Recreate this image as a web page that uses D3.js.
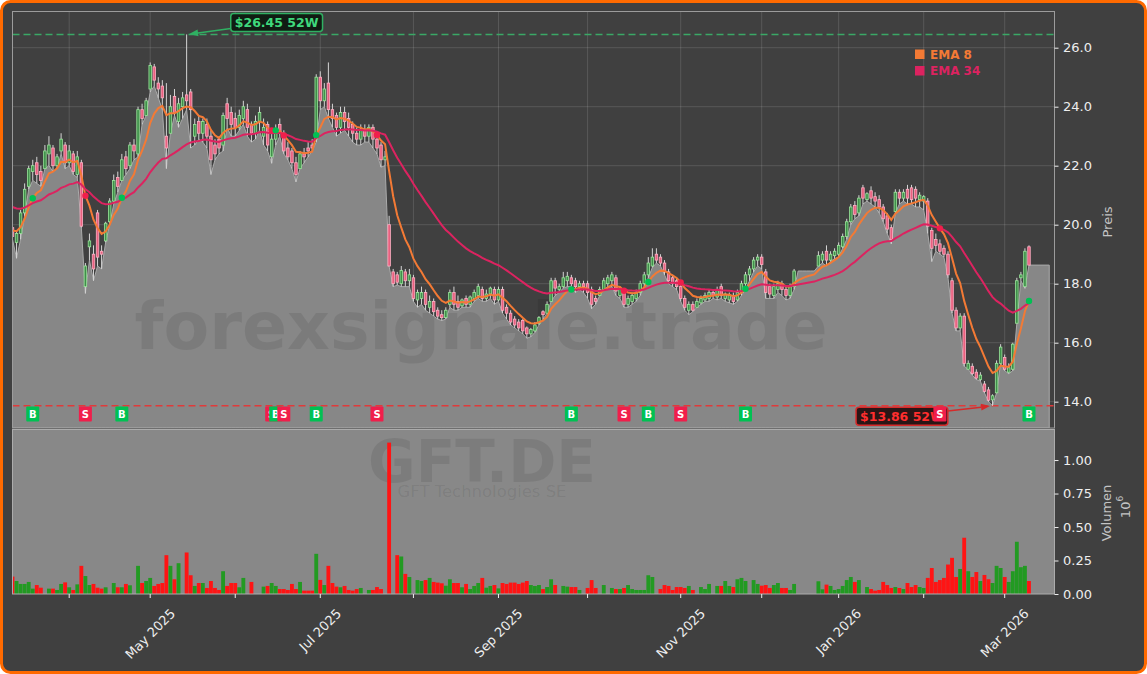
<!DOCTYPE html>
<html><head><meta charset="utf-8">
<script src="https://cdn.jsdelivr.net/npm/d3@7/dist/d3.min.js"></script>
<style>html,body{margin:0;padding:0;background:#ffffff;}svg{display:block;font-family:"DejaVu Sans",sans-serif;}</style>
</head><body>
<svg id="c" width="1147" height="674"></svg>
<script>
// ---------------- DATA ----------------
const ticker = "GFT.DE";
const companyName = "GFT Technologies SE";
const watermark = "forexsignale.trade";
const startDate = "2025-03-12";
const holidays = ["2025-04-18","2025-04-21","2025-05-01","2025-12-24","2025-12-25","2025-12-26","2025-12-31","2026-01-01"];

const opens = [
 19.9,19.4,19.7,20.4,21.3,21.8,22.1,21.8,21.9,22.4,22.6,22.0,22.5,22.7,
 22.1,22.4,21.7,22.1,17.9,19.25,19.0,20.4,19.1,19.45,20.1,20.8,21.6,21.5,22.3,22.0,22.7,22.4,23.9,23.7,
 24.6,25.35,24.8,24.7,23.0,23.1,24.35,23.5,24.0,24.4,24.5,23.0,23.5,23.1,23.4,23.0,22.7,22.9,22.7,24.1,23.8,
 23.6,23.3,23.6,23.9,23.4,23.1,23.5,23.0,23.4,22.3,22.9,23.4,23.1,22.6,22.5,22.1,21.9,22.4,22.6,22.7,22.9,
 25.0,24.2,24.8,23.9,23.7,23.3,23.8,23.6,23.4,23.1,22.9,23.2,23.0,23.3,22.9,22.7,22.2,20.0,18.4,18.3,18.0,18.4,18.1,
 18.2,17.45,17.5,17.7,17.2,17.4,17.1,16.95,16.85,17.3,17.7,17.4,17.25,17.5,17.3,17.5,17.6,17.8,17.5,17.65,17.8,
 17.45,17.8,17.2,17.0,16.8,16.7,16.75,16.5,16.3,16.4,16.65,17.05,17.0,17.4,18.1,17.8,17.9,18.1,18.2,18.1,17.9,18.0,
 18.0,17.8,17.5,17.6,17.8,18.0,18.1,18.2,17.6,17.7,17.3,17.4,17.5,17.7,18.0,18.3,18.6,19.0,18.9,18.7,18.4,18.2,18.1,
 17.9,17.5,17.1,17.3,17.2,17.35,17.45,17.5,17.7,17.55,17.9,17.5,17.45,17.6,17.45,17.7,18.0,18.3,18.5,18.8,
 18.9,18.4,17.9,17.6,17.8,18.0,17.8,17.6,17.9,18.43,18.43,18.43,18.43,18.43,18.6,18.8,19.1,18.8,18.95,
 19.0,19.25,19.6,20.1,20.65,20.4,21.25,20.85,21.15,20.95,20.85,20.6,20.3,19.9,20.45,21.1,20.9,21.2,21.25,21.2,20.85,
 20.8,20.8,19.8,19.5,19.35,19.2,19.0,18.1,17.1,16.5,16.9,15.1,15.2,15.0,14.75,14.6,14.4,14.06,14.3,15.3,
 15.5,15.0,15.1,16.66,18.2,17.9,19.25];
const highs = [
 20.2,19.8,20.5,21.4,22.0,22.2,22.3,22.0,22.7,23.0,22.7,22.4,23.1,22.8,
 22.7,22.5,22.5,22.2,18.7,19.7,19.3,20.5,19.3,20.1,20.9,21.7,21.8,22.4,22.5,22.8,22.9,24.0,24.1,24.3,
 25.5,25.45,25.0,24.9,24.8,24.4,24.6,24.3,24.5,26.45,24.6,23.6,23.7,23.6,23.6,23.2,22.9,23.0,23.8,24.3,24.0,
 23.8,23.9,24.2,24.1,23.5,23.7,24.0,23.6,23.5,23.1,23.4,23.6,23.2,22.8,22.6,22.3,22.5,22.6,22.8,22.9,25.1,
 25.2,24.8,25.5,24.1,23.8,24.0,24.0,23.8,23.5,23.3,23.4,23.4,23.4,23.4,23.0,22.8,22.5,20.3,18.5,18.4,18.6,18.5,18.5,
 18.3,17.8,17.9,17.8,17.6,17.5,17.2,17.1,17.2,17.8,17.9,17.6,17.5,17.6,17.6,17.8,18.0,17.9,17.8,17.9,17.9,
 17.9,17.9,17.3,17.1,16.9,16.8,16.8,16.55,16.5,16.7,16.9,17.1,17.4,18.2,18.2,18.0,18.4,18.4,18.3,18.2,18.1,18.1,
 18.1,17.9,17.6,17.9,18.2,18.3,18.4,18.3,17.9,17.8,17.6,17.7,17.8,18.1,18.4,18.9,19.2,19.2,19.0,18.8,18.5,18.3,18.2,
 18.0,17.6,17.4,17.4,17.5,17.6,17.7,17.8,17.8,17.9,18.0,17.7,17.7,17.7,17.8,18.1,18.4,18.6,18.9,19.0,
 19.0,18.5,18.0,18.0,18.1,18.1,17.9,18.0,18.5,18.43,18.43,18.43,18.43,18.43,19.1,19.1,19.3,19.1,19.2,
 19.4,19.7,20.2,20.7,20.8,21.0,21.35,21.1,21.3,21.1,21.0,20.7,20.4,20.0,21.2,21.2,21.2,21.35,21.35,21.3,21.1,
 21.0,20.9,19.9,19.7,19.5,19.3,19.1,18.2,17.2,17.0,17.0,15.4,15.3,15.1,15.0,14.7,14.5,14.25,15.4,15.95,
 15.6,15.3,16.0,18.2,18.4,19.2,19.3];
const lows = [
 19.5,18.86,19.5,20.3,21.2,21.5,21.4,21.3,21.9,22.0,21.8,21.9,22.4,21.9,
 22.0,21.7,21.6,19.9,17.67,18.8,18.1,18.6,18.5,19.4,20.0,20.7,21.1,21.5,21.7,21.9,22.2,22.3,23.4,23.7,
 24.5,24.7,24.3,23.9,21.9,23.1,23.7,23.3,23.6,23.9,22.6,22.7,22.9,22.8,22.6,21.7,22.2,22.4,22.5,23.3,23.0,
 23.0,23.2,23.4,23.0,22.8,22.9,23.2,22.7,22.5,22.08,22.7,23.0,22.4,22.2,21.9,21.45,21.9,22.1,22.3,22.5,22.8,
 23.9,24.0,23.6,23.3,23.0,23.1,23.2,23.0,22.8,22.7,22.7,22.8,22.8,22.6,22.4,21.95,22.0,18.58,17.9,17.95,17.9,17.9,17.9,
 17.4,17.2,17.3,17.1,17.0,16.9,16.8,16.75,16.8,17.2,17.1,17.1,17.2,17.2,17.2,17.4,17.5,17.4,17.4,17.5,17.3,
 17.4,17.0,16.8,16.6,16.5,16.4,16.3,16.15,16.2,16.35,16.6,16.8,17.0,17.4,17.6,17.7,17.85,17.9,17.9,17.7,17.8,17.7,
 17.5,17.15,17.3,17.6,17.8,17.9,17.9,17.6,17.5,17.2,17.2,17.3,17.4,17.6,17.9,18.2,18.55,18.7,18.6,18.3,18.0,17.9,17.8,
 17.4,17.1,16.95,17.05,17.2,17.3,17.4,17.4,17.5,17.45,17.5,17.4,17.35,17.3,17.4,17.6,17.8,18.1,18.4,18.6,
 18.5,17.5,17.5,17.5,17.7,17.6,17.45,17.5,17.8,18.43,18.43,18.43,18.43,18.43,18.6,18.7,18.6,18.75,18.85,
 18.9,19.2,19.5,20.0,20.2,20.3,20.7,20.8,20.7,20.6,20.4,20.1,19.7,19.35,20.4,20.7,20.8,20.7,20.7,20.6,20.6,
 20.5,19.7,18.75,19.1,19.0,18.9,18.2,17.0,16.4,16.4,15.2,15.1,14.9,14.75,14.7,14.3,14.0,13.86,14.3,15.3,
 15.05,14.95,15.05,16.66,18.1,17.84,18.63];
const closes = [
 19.6,19.7,20.4,21.2,21.9,22.0,21.7,21.5,22.5,22.7,22.0,22.3,22.9,22.1,
 22.5,21.8,22.3,19.95,18.6,19.45,18.5,18.9,19.0,20.05,20.8,21.5,21.3,22.2,21.9,22.7,22.5,23.9,23.6,24.2,
 25.4,24.9,24.6,24.3,22.6,24.0,23.8,24.1,24.3,24.2,23.9,23.4,23.1,23.5,23.0,22.2,22.4,22.6,23.7,23.6,23.4,
 23.3,23.7,24.0,23.3,23.1,23.5,23.8,23.3,22.7,22.9,23.2,23.1,22.5,22.3,22.1,21.7,22.4,22.3,22.5,22.6,25.0,
 24.2,24.6,23.9,23.6,23.3,23.8,23.5,23.3,23.1,22.9,23.2,23.0,23.3,22.9,22.6,22.2,22.3,18.6,18.0,18.05,18.45,18.1,18.3,
 17.5,17.7,17.7,17.3,17.4,17.05,16.9,16.85,17.1,17.7,17.3,17.2,17.45,17.3,17.55,17.7,17.9,17.5,17.65,17.85,17.45,
 17.8,17.1,17.0,16.7,16.6,16.5,16.4,16.3,16.45,16.6,16.85,16.95,17.3,18.1,17.85,17.9,18.2,18.25,18.0,17.9,18.0,17.9,
 17.7,17.3,17.4,17.8,18.1,18.2,18.3,17.75,17.8,17.3,17.5,17.6,17.7,18.0,18.3,18.7,18.9,18.8,18.7,18.4,18.1,18.0,17.9,
 17.5,17.2,17.3,17.1,17.4,17.5,17.6,17.7,17.6,17.8,17.6,17.65,17.6,17.4,17.7,18.0,18.3,18.5,18.8,18.9,
 18.65,17.7,17.65,17.9,18.0,17.8,17.6,17.9,18.43,18.43,18.43,18.43,18.43,18.43,18.95,19.0,18.8,19.0,19.1,
 19.3,19.6,20.1,20.6,20.35,20.9,20.9,21.05,20.9,20.8,20.6,20.2,19.85,19.5,21.1,20.9,21.1,20.9,20.85,20.9,21.0,
 20.95,19.95,19.2,19.3,19.1,19.0,18.3,17.1,16.5,16.9,15.3,15.3,14.95,14.8,14.9,14.35,14.05,14.2,15.3,15.85,
 15.1,15.15,15.95,18.1,18.3,19.1,18.63];
// volume in millions
const volumes = [
 0.13,0.097,0.075,0.075,0.09,0.04,0.067,0.047,0,0.04,0.04,0.03,0.075,0.087,
 0.05,0.03,0.072,0.21,0.134,0.067,0.075,0.047,0.04,0.05,0,0.082,0.05,0.05,0.075,0.065,0,0.21,0.082,0.097,
 0.12,0.06,0.075,0.082,0.29,0.21,0.11,0.23,0,0.31,0.14,0.06,0.082,0.082,0.045,0.097,0.045,0.03,0.17,0.06,0.082,
 0.082,0.05,0.12,0,0.09,0,0,0.055,0.06,0.082,0.06,0.037,0.037,0.03,0.075,0.037,0.09,0.025,0.025,0.025,0.30,
 0.105,0.067,0.21,0.082,0.055,0.05,0.06,0.03,0.025,0.037,0.045,0,0.03,0.03,0.052,0.037,0,1.13,0,0.29,0.28,0.15,0.127,
 0,0.104,0.097,0.104,0.12,0.09,0.085,0.08,0.062,0.11,0.082,0.082,0.05,0.075,0.037,0.06,0.082,0.12,0.047,0.06,0.067,
 0.042,0.082,0.075,0.085,0.085,0.075,0.085,0.097,0.067,0.06,0.067,0.037,0.052,0.11,0.067,0,0.06,0.055,0.052,0.052,0.03,0,
 0.045,0.104,0.045,0,0.067,0,0.045,0.037,0.037,0.045,0.067,0.037,0.03,0.03,0.03,0.14,0.127,0,0.037,0.067,0.06,0.03,0.052,
 0.052,0.045,0.06,0.03,0,0.052,0.037,0.075,0,0.06,0.06,0.097,0.06,0.052,0.11,0.12,0.097,0,0.104,0.075,
 0.062,0.067,0.045,0.067,0.082,0.045,0.045,0.03,0.075,0,0,0,0,0,0.095,0.035,0.07,0.06,0.03,
 0.037,0.06,0.104,0.127,0.09,0.104,0,0.052,0.037,0.025,0.03,0.09,0.067,0.045,0.052,0.045,0.037,0.082,0.052,0.067,0.052,
 0.045,0.12,0.194,0.09,0.104,0.12,0.22,0.27,0.127,0.187,0.42,0.17,0.127,0.164,0.097,0.142,0.11,0.082,0.21,0.194,
 0.127,0.09,0.17,0.39,0.2,0.21,0.097];

const emaPeriods = [8, 34];
const emaSeeds = [19.8, 20.6];          // EMA values at the first bar (history before the window)
const emaNames = ["EMA 8", "EMA 34"];
const signalIdx  = [5, 18, 27, 64, 65, 67, 75, 90, 138, 151, 157, 165, 181, 229, 251];
const signalType = ["B","S","B","S","B","S","B","S","B","S","B","S","B","S","B"];
const priceTicks = [14, 16, 18, 20, 22, 24, 26];
const volumeTicks = [0, 0.25, 0.5, 0.75, 1.0];
const areaTailBars = 5;

// ---------------- LAYOUT / STYLE ----------------
const W = 1147, H = 674;
const L = 12.5, R = 1054.5, PT = 11.5, PB = 428, VT = 429.5, VB = 594;
const COL = {
  bg: "#404040", border: "#ff6a00", grid: "rgba(255,255,255,0.13)", area: "#878787", areaLine: "#aaaaaa",
  volBg: "#888888", up: "#229a22", down: "#ff1414", ema: ["#f37a35", "#dc2360"],
  buy: "#00c153", sell: "#f01e4b", tick: "#eeeeee", label: "#c4c4c4"
};

// ---------------- DATES ----------------
function tradingDays(start, n, hol) {
  const hs = new Set(hol), out = [];
  let d = new Date(start + "T00:00:00Z");
  while (out.length < n) {
    const dow = d.getUTCDay(), iso = d.toISOString().slice(0, 10);
    if (dow !== 0 && dow !== 6 && !hs.has(iso)) out.push(new Date(d));
    d = new Date(d.getTime() + 86400000);
  }
  return out;
}
const N = closes.length;
const dates = tradingDays(startDate, N, holidays);
const monthTicks = [];
for (let i = 1; i < N; i++) if (dates[i].getUTCMonth() !== dates[i - 1].getUTCMonth()) monthTicks.push({ i, d: dates[i] });

// EMAs
const emas = emaPeriods.map((p, k) => {
  const a = 2 / (p + 1), out = [emaSeeds[k]];
  for (let i = 1; i < N; i++) out.push(out[i - 1] + a * (closes[i] - out[i - 1]));
  return out;
});

// ---------------- SCALES ----------------
const x = d3.scaleLinear().domain([0, 257.3]).range([L, R]);
const yP = d3.scaleLinear().domain([13.108, 27.227]).range([PB, PT]);
const yV = d3.scaleLinear().domain([0, 1.228]).range([VB, VT]);
const slot = x(1) - x(0);

const svg = d3.select("#c");
svg.append("rect").attr("x", 1.5).attr("y", 1.5).attr("width", W - 3).attr("height", H - 3).attr("rx", 9)
  .attr("fill", COL.bg).attr("stroke", COL.border).attr("stroke-width", 3);

const defs = svg.append("defs");
defs.append("clipPath").attr("id", "cp").append("rect").attr("x", L).attr("y", PT).attr("width", R - L).attr("height", PB - PT);
defs.append("clipPath").attr("id", "cv").append("rect").attr("x", L).attr("y", VT).attr("width", R - L).attr("height", VB - VT);

// ---------------- PRICE PANEL ----------------
const gP = svg.append("g").attr("clip-path", "url(#cp)");
monthTicks.forEach(t => gP.append("line").attr("x1", x(t.i)).attr("x2", x(t.i)).attr("y1", PT).attr("y2", PB).attr("stroke", COL.grid));
priceTicks.forEach(p => gP.append("line").attr("x1", L).attr("x2", R).attr("y1", yP(p)).attr("y2", yP(p)).attr("stroke", COL.grid));

const areaPts = lows.map((v, i) => ({ i, v }));
areaPts.push({ i: N - 1 + areaTailBars, v: lows[N - 1] });
gP.append("path").datum(areaPts)
  .attr("d", d3.area().x(d => x(d.i)).y0(PB).y1(d => yP(d.v)))
  .attr("fill", COL.area).attr("stroke", COL.areaLine).attr("stroke-width", 1);

gP.append("text").attr("x", 481).attr("y", 349).attr("text-anchor", "middle")
  .attr("font-size", 66).attr("font-weight", "bold").attr("fill", "#000").attr("fill-opacity", 0.085)
  .attr("textLength", 693).attr("lengthAdjust", "spacingAndGlyphs").text(watermark);

// 52W lines
const hiVal = d3.max(highs), hiIdx = highs.indexOf(hiVal);
const loVal = d3.min(lows), loIdx = lows.indexOf(loVal);
gP.append("line").attr("x1", L).attr("x2", R).attr("y1", yP(hiVal)).attr("y2", yP(hiVal))
  .attr("stroke", "#3aa866").attr("stroke-width", 1.5).attr("stroke-dasharray", "7,4");
gP.append("line").attr("x1", L).attr("x2", R).attr("y1", yP(loVal)).attr("y2", yP(loVal))
  .attr("stroke", "#e03a3a").attr("stroke-width", 1.5).attr("stroke-dasharray", "7,4");

// candles
const bw = slot * 0.62;
for (let i = 0; i < N; i++) {
  if (volumes[i] === 0 && highs[i] === lows[i]) continue;
  const up = closes[i] >= opens[i];
  gP.append("line").attr("x1", x(i)).attr("x2", x(i)).attr("y1", yP(highs[i])).attr("y2", yP(lows[i]))
    .attr("stroke", "#d4d4d4").attr("stroke-width", 1);
  const y0 = yP(Math.max(opens[i], closes[i])), h = Math.max(1, Math.abs(yP(opens[i]) - yP(closes[i])));
  gP.append("rect").attr("x", x(i) - bw / 2).attr("y", y0).attr("width", bw).attr("height", h)
    .attr("fill", up ? "#3f8f4a" : "#e9607f").attr("stroke", up ? "#9be69b" : "#ffb0c4").attr("stroke-width", 0.8);
}

// EMA lines
emas.forEach((e, k) => {
  gP.append("path").datum(e).attr("d", d3.line().x((d, i) => x(i)).y(d => yP(d)))
    .attr("fill", "none").attr("stroke", COL.ema[k]).attr("stroke-width", 2);
});
signalIdx.forEach((i, k) => {
  gP.append("circle").attr("cx", x(i)).attr("cy", yP(emas[0][i])).attr("r", 3.2)
    .attr("fill", signalType[k] === "B" ? COL.buy : COL.sell);
});

// 52W annotations
function annotate(ix, val, dx, dy, txt, c) {
  const ax = x(ix), ay = yP(val), cx = ax + dx, cy = ay + dy;
  const g = svg.append("g");
  const t = g.append("text").attr("x", cx).attr("y", cy).attr("text-anchor", "middle").attr("dominant-baseline", "central")
    .attr("font-size", 12.5).attr("font-weight", "bold").attr("fill", c.text).text(txt);
  const tw = t.node().getComputedTextLength(), bwid = tw + 8, bh = 18;
  g.insert("rect", "text").attr("x", cx - bwid / 2).attr("y", cy - bh / 2).attr("width", bwid).attr("height", bh).attr("rx", 3)
    .attr("fill", c.box).attr("stroke", c.edge).attr("stroke-width", 1.5);
  // arrow from box edge to point
  const vx = ax - cx, vy = ay - cy, len = Math.hypot(vx, vy), ux = vx / len, uy = vy / len;
  const sx = cx + ux * (bwid / 2) / Math.abs(ux), sy = cy + uy * (bwid / 2) / Math.abs(ux);
  const ex = ax - ux * 2.5, ey = ay - uy * 2.5;
  const hx = ex - ux * 9, hy = ey - uy * 9;
  g.append("line").attr("x1", sx).attr("y1", sy).attr("x2", hx).attr("y2", hy).attr("stroke", c.edge).attr("stroke-width", 1.5);
  g.append("path").attr("d", `M${ex},${ey}L${hx - uy * 3.5},${hy + ux * 3.5}L${hx + uy * 3.5},${hy - ux * 3.5}Z`).attr("fill", c.edge);
}
annotate(hiIdx, hiVal, 90, -12, `$${hiVal.toFixed(2)} 52W`, { text: "#3fd97c", box: "#101c13", edge: "#2fb062" });
annotate(loIdx, loVal, -90.6, 10.5, `$${loVal.toFixed(2)} 52W`, { text: "#ff2e2e", box: "#2a1616", edge: "#d62a2a" });

// B/S markers
signalIdx.forEach((i, k) => {
  const g = svg.append("g");
  g.append("rect").attr("x", x(i) - 6.5).attr("y", PB - 21.5).attr("width", 13).attr("height", 15).attr("rx", 1)
    .attr("fill", signalType[k] === "B" ? COL.buy : COL.sell);
  g.append("text").attr("x", x(i)).attr("y", PB - 14).attr("text-anchor", "middle").attr("dominant-baseline", "central")
    .attr("font-size", 10).attr("font-weight", "bold").attr("fill", "#fff").text(signalType[k]);
});

// legend
emaNames.forEach((n, k) => {
  svg.append("rect").attr("x", 915).attr("y", 49.5 + k * 16.5).attr("width", 9.5).attr("height", 9.5).attr("fill", COL.ema[k]);
  svg.append("text").attr("x", 930).attr("y", 58.5 + k * 16.5).attr("font-size", 12).attr("font-weight", "bold")
    .attr("fill", COL.ema[k]).text(n);
});

// ---------------- VOLUME PANEL ----------------
svg.append("rect").attr("x", L).attr("y", VT).attr("width", R - L).attr("height", VB - VT).attr("fill", COL.volBg);
const gV = svg.append("g").attr("clip-path", "url(#cv)");
gV.append("text").attr("x", 482).attr("y", 482).attr("text-anchor", "middle").attr("font-size", 58).attr("font-weight", "bold")
  .attr("fill", "#000").attr("fill-opacity", 0.085).attr("textLength", 228).attr("lengthAdjust", "spacingAndGlyphs").text(ticker);
gV.append("text").attr("x", 482).attr("y", 497).attr("text-anchor", "middle").attr("font-size", 16)
  .attr("fill", "#000").attr("fill-opacity", 0.085).attr("textLength", 169).attr("lengthAdjust", "spacingAndGlyphs").text(companyName);
const vbw = slot * 0.95;
volumes.forEach((v, i) => {
  if (!v) return;
  gV.append("rect").attr("x", x(i) - vbw / 2).attr("y", yV(v)).attr("width", vbw).attr("height", VB - yV(v))
    .attr("fill", closes[i] >= opens[i] ? COL.up : COL.down);
});

// spines
svg.append("rect").attr("x", L).attr("y", PT).attr("width", R - L).attr("height", PB - PT).attr("fill", "none").attr("stroke", "#9c9c9c");
svg.append("rect").attr("x", L).attr("y", VT).attr("width", R - L).attr("height", VB - VT).attr("fill", "none").attr("stroke", "#acacac");

// ---------------- AXES ----------------
const axP = svg.append("g").attr("transform", `translate(${R},0)`)
  .call(d3.axisRight(yP).tickValues(priceTicks).tickFormat(d3.format(".1f")).tickSize(4).tickPadding(4.5));
const axV = svg.append("g").attr("transform", `translate(${R},0)`)
  .call(d3.axisRight(yV).tickValues(volumeTicks).tickFormat(d3.format(".2f")).tickSize(4).tickPadding(4.5));
[axP, axV].forEach(a => {
  a.select(".domain").remove();
  a.selectAll("line").attr("stroke", COL.tick);
  a.selectAll("text").attr("fill", COL.tick).attr("font-size", 13).attr("font-family", "DejaVu Sans");
});

svg.append("text").attr("transform", "translate(1107,222) rotate(-90)").attr("text-anchor", "middle").attr("dominant-baseline", "central")
  .attr("font-size", 13).attr("fill", COL.label).text("Preis");
svg.append("text").attr("transform", "translate(1106,513) rotate(-90)").attr("text-anchor", "middle").attr("dominant-baseline", "central")
  .attr("font-size", 13).attr("fill", COL.label).text("Volumen");
const ex = svg.append("text").attr("transform", "translate(1125,507) rotate(-90)").attr("text-anchor", "middle")
  .attr("dominant-baseline", "central").attr("font-size", 13).attr("fill", COL.label);
ex.append("tspan").text("10");
ex.append("tspan").attr("dy", -5).attr("font-size", 9).text("6");

// x axis
const fmt = d3.utcFormat("%b %Y");
monthTicks.forEach(t => {
  const tx = x(t.i);
  svg.append("line").attr("x1", tx).attr("x2", tx).attr("y1", VB).attr("y2", VB + 4).attr("stroke", COL.tick);
  if (t.d.getUTCMonth() % 2 === 0) {
    const txt = svg.append("text").attr("text-anchor", "middle").attr("dominant-baseline", "central")
      .attr("font-size", 13).attr("fill", COL.tick).text(fmt(t.d));
    const len = txt.node().getComputedTextLength();
    const bh = (len + 15) * Math.SQRT1_2;
    txt.attr("transform", `translate(${tx},${VB + 12 + bh / 2}) rotate(-45)`);
  }
});
</script>
</body></html>
